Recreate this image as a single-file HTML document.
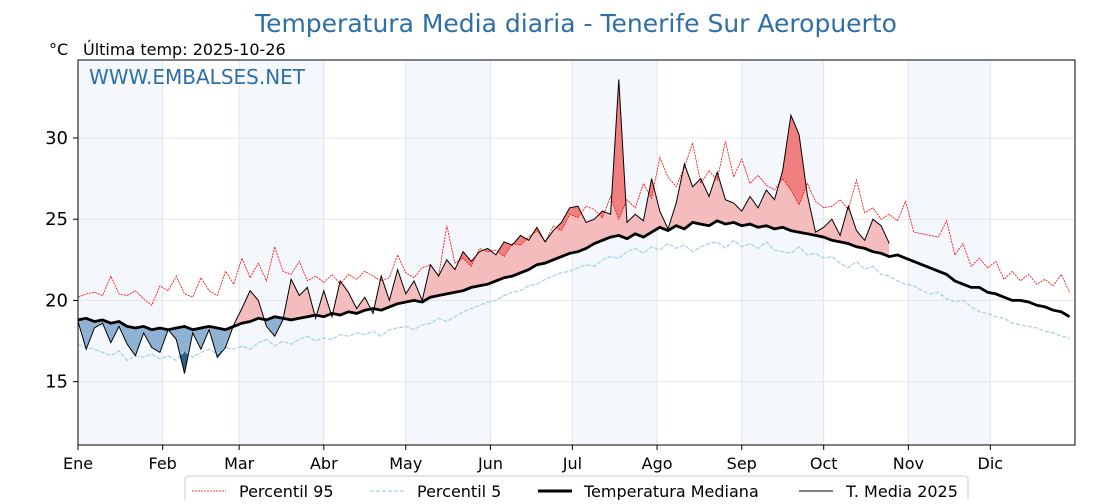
<!DOCTYPE html>
<html><head><meta charset="utf-8"><style>
body{margin:0;background:#fff;width:1120px;height:500px;overflow:hidden;font-family:"DejaVu Sans","Liberation Sans",sans-serif}
</style></head><body>
<svg id="chart" width="1120" height="500" style="font-family:'DejaVu Sans','Liberation Sans',sans-serif">
<text x="576" y="32" font-size="25" fill="#2e6fa6" text-anchor="middle">Temperatura Media diaria - Tenerife Sur Aeropuerto</text>
<text x="49" y="55" font-size="16" fill="#000">°C</text>
<text x="83" y="55" font-size="16" fill="#000">Última temp: 2025-10-26</text>
<g id="bands"></g><g id="grid"></g><g id="marks"></g>
<text x="89" y="84" font-size="20" fill="#2e6fa6">WWW.EMBALSES.NET</text>
<rect x="78" y="60" width="997" height="385" fill="none" stroke="#000" stroke-width="1"/>
<g id="axes"></g>
<g>
<rect x="185" y="476" width="783" height="30" rx="3" fill="#fff" stroke="#ccc"/>
<line x1="192" y1="491" x2="226" y2="491" stroke="red" stroke-width="0.8" stroke-dasharray="2,1"/>
<text x="239" y="497" font-size="16">Percentil 95</text>
<line x1="370" y1="491" x2="404" y2="491" stroke="#a8d4e2" stroke-width="1.2" stroke-dasharray="4,2"/>
<text x="417" y="497" font-size="16">Percentil 5</text>
<line x1="538" y1="491" x2="572" y2="491" stroke="#000" stroke-width="3"/>
<text x="584" y="497" font-size="16">Temperatura Mediana</text>
<line x1="799" y1="491" x2="833" y2="491" stroke="#000" stroke-width="1"/>
<text x="846" y="497" font-size="16">T. Media 2025</text>
</g>
</svg>
<script>
const months=["Ene","Feb","Mar","Abr","May","Jun","Jul","Ago","Sep","Oct","Nov","Dic"];
const monthStart=[0,31,59,90,120,151,181,212,243,273,304,334];
const yTicks=[15,20,25,30];
const step=3;
const median=[18.8,18.9,18.7,18.8,18.6,18.7,18.4,18.3,18.4,18.2,18.3,
18.2,18.3,18.4,18.2,18.3,18.4,18.3,18.2,18.4,
18.6,18.7,18.9,18.8,19.0,18.9,18.8,18.9,19.0,19.1,
19.0,19.2,19.1,19.3,19.2,19.4,19.5,19.4,19.6,19.8,
19.9,20.0,19.9,20.2,20.3,20.4,20.5,20.6,20.8,20.9,21.0,
21.2,21.4,21.5,21.7,21.9,22.2,22.3,22.5,22.7,22.9,
23.0,23.2,23.5,23.7,23.9,24.0,23.8,24.1,23.9,24.2,
24.5,24.3,24.6,24.4,24.8,24.7,24.6,24.9,24.7,24.8,
24.6,24.7,24.5,24.6,24.4,24.5,24.3,24.2,24.1,24.0,
23.9,23.7,23.6,23.5,23.3,23.2,23.0,22.9,22.7,22.8,22.6,
22.4,22.2,22.0,21.8,21.6,21.2,21.0,20.8,20.8,20.5,
20.4,20.2,20.0,20.0,19.9,19.7,19.6,19.4,19.3,19.0];
const p95=[20.2,20.4,20.5,20.3,21.5,20.4,20.3,20.6,20.1,19.7,20.9,
20.6,21.5,20.4,20.2,21.4,20.6,20.3,21.8,21.0,
22.6,21.4,22.3,21.2,23.3,21.8,21.6,22.4,21.2,21.5,
21.1,21.6,21.0,21.6,21.3,21.8,21.5,21.2,21.4,22.8,
21.7,21.4,22.0,22.2,21.5,24.6,22.3,22.6,22.1,23.2,23.0,
23.1,22.7,23.5,23.4,23.9,24.3,23.6,24.6,24.3,25.3,
25.1,25.8,25.6,25.1,26.4,25.0,26.2,25.7,27.2,26.3,
28.8,27.6,27.0,28.2,29.7,27.2,28.0,27.4,29.8,27.6,
28.7,27.2,27.7,27.1,26.8,27.5,26.8,25.9,27.2,26.1,
25.7,25.8,26.2,25.6,27.4,25.4,25.7,25.0,25.3,24.9,26.1,
24.2,24.1,24.0,23.9,24.9,22.8,23.5,22.1,22.6,22.0,
22.4,21.3,21.8,21.2,21.6,21.0,21.3,20.9,21.6,20.5];
const p5=[17.3,17.1,17.0,16.8,16.6,16.9,16.3,16.6,16.5,16.7,16.4,
16.6,16.3,16.9,16.5,16.8,17.0,16.7,17.1,17.0,
17.2,17.0,17.4,17.6,17.2,17.5,17.3,17.6,17.8,17.5,
17.7,17.6,17.9,17.8,18.0,17.9,18.1,17.8,18.2,18.3,
18.4,18.2,18.5,18.6,18.9,18.7,19.0,19.3,19.5,19.7,19.9,
20.0,20.3,20.5,20.6,20.9,21.0,21.3,21.5,21.7,21.8,
22.0,22.2,22.1,22.5,22.7,22.6,23.0,23.2,22.9,23.3,
23.1,23.5,23.2,23.4,23.0,23.3,23.5,23.6,23.2,23.7,
23.3,23.5,23.2,23.6,23.1,23.0,22.9,23.3,22.8,22.9,
22.6,22.7,22.3,22.0,22.4,21.9,22.1,21.6,21.5,21.2,21.0,
20.9,20.6,20.4,20.5,20.1,19.9,20.0,19.6,19.3,19.2,
19.0,18.9,18.6,18.5,18.4,18.3,18.1,18.0,17.8,17.7];
const t2025=[18.7,17.0,18.3,18.6,17.4,18.4,17.3,16.6,18.0,17.1,16.8,
18.2,17.6,15.5,18.0,17.0,18.2,16.5,17.1,18.5,
19.5,20.6,20.0,18.4,17.8,18.8,21.3,20.3,20.8,18.9,
20.6,19.0,21.2,20.5,19.5,20.2,19.2,21.5,20.0,21.9,
20.4,21.2,20.0,22.2,21.5,22.5,21.9,23.0,22.4,23.0,23.2,
22.8,23.6,23.4,24.0,23.7,24.5,23.6,24.3,24.8,25.7,
25.8,24.8,25.0,25.5,25.3,33.6,24.8,25.3,24.9,27.5,
25.5,24.4,26.0,28.4,27.0,27.5,26.4,27.9,26.2,26.0,
25.5,26.4,25.7,26.8,26.2,28.0,31.4,30.2,26.5,24.2,
24.5,25.0,24.0,25.8,24.3,23.7,25.0,24.6,23.5];

const X0=78,X1=1075,Y0=60,Y1=445,TMIN=11.1,TMAX=34.8;
const xs=d=>X0+d*(X1-X0)/365;
const ys=t=>Y1-(t-TMIN)*(Y1-Y0)/(TMAX-TMIN);
const NS="http://www.w3.org/2000/svg";
function mk(tag,attrs,parent){const e=document.createElementNS(NS,tag);for(const k in attrs)e.setAttribute(k,attrs[k]);parent.appendChild(e);return e;}
const bands=document.getElementById('bands'),grid=document.getElementById('grid'),marks=document.getElementById('marks'),axes=document.getElementById('axes');
for(let m=0;m<12;m+=2){
  const r=mk('rect',{x:xs(monthStart[m]),y:Y0,width:xs(monthStart[m+1])-xs(monthStart[m]),height:Y1-Y0,fill:'#f4f8fc'},bands);
  
  
}
monthStart.forEach((d,i)=>{
  const l=mk('line',{x1:xs(d),x2:xs(d),y1:Y0,y2:Y1,stroke:'#dde6ee','stroke-width':1},grid);
  
  
  const t=mk('line',{x1:xs(d),x2:xs(d),y1:Y1,y2:Y1+5,stroke:'#000'},axes);
  
  
  const tx=mk('text',{x:xs(d),y:Y1+24,'font-size':16,'text-anchor':'middle'},axes);
  tx.textContent=months[i];
  
  
});
yTicks.forEach(v=>{
  const l=mk('line',{x1:X0,x2:X1,y1:ys(v),y2:ys(v),stroke:'#e6e6e6','stroke-width':1},grid);
  
  
  const t=mk('line',{x1:X0-5,x2:X0,y1:ys(v),y2:ys(v),stroke:'#000'},axes);
  
  
  const tx=mk('text',{x:X0-10,y:ys(v)+6,'font-size':18,'text-anchor':'end'},axes);
  tx.textContent=v;
  
  
});
const pts=(arr)=>arr.map((v,i)=>[xs(i*step),ys(v)]);
const str=p=>p.map(q=>q[0].toFixed(1)+','+q[1].toFixed(1)).join(' ');
const n=t2025.length;
const medP=pts(median.slice(0,n)),p95P=pts(p95.slice(0,n)),p5P=pts(p5.slice(0,n)),tP=pts(t2025);
const defs=mk('defs',{},marks);
function clip(id,line,top){const c=mk('clipPath',{id},defs);const a=line.slice();const xa=a[0][0],xb=a[a.length-1][0];const y=top?0:500;mk('polygon',{points:str([[xa,y],...a,[xb,y]])},c);}
clip('aboveMed',medP,true);clip('belowMed',medP,false);clip('aboveP95',p95P,true);clip('belowP5',p5P,false);
const band=(a,b)=>str([...a,...b.slice().reverse()]);
const f1=mk('polygon',{points:band(tP,medP),fill:'#f4bcbc','clip-path':'url(#aboveMed)'},marks);

const f2=mk('polygon',{points:band(tP,medP),fill:'#8fb1d3','clip-path':'url(#belowMed)'},marks);

const f3=mk('polygon',{points:band(tP,p95P),fill:'#f08080','clip-path':'url(#aboveP95)'},marks);

const f4=mk('polygon',{points:band(tP,p5P),fill:'#2a5f8f','clip-path':'url(#belowP5)'},marks);

const l95=mk('polyline',{points:str(pts(p95)),fill:'none',stroke:'red','stroke-width':0.8,'stroke-dasharray':'2,1'},marks);

const l5=mk('polyline',{points:str(pts(p5)),fill:'none',stroke:'#a8d4e2','stroke-width':1.3,'stroke-dasharray':'4,2'},marks);

const lm=mk('polyline',{points:str(pts(median)),fill:'none',stroke:'#000','stroke-width':2.8},marks);

const lt=mk('polyline',{points:str(tP),fill:'none',stroke:'#000','stroke-width':1},marks);

</script>
</body></html>
